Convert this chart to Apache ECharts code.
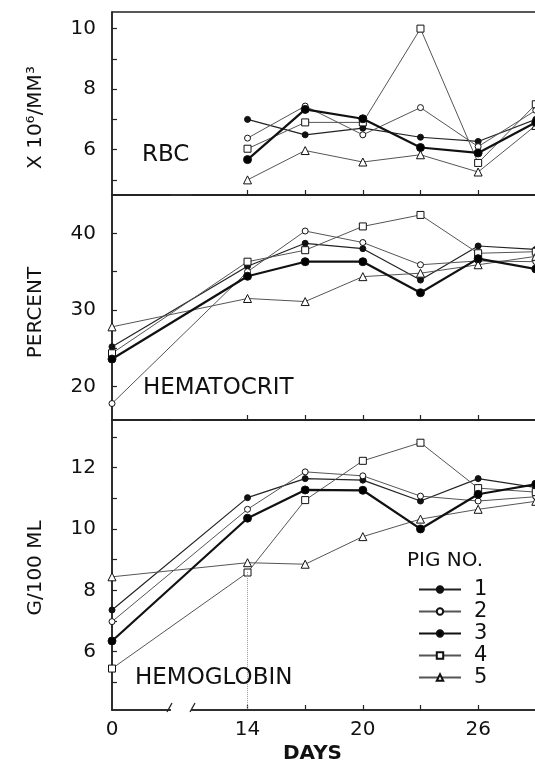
<!DOCTYPE html>
<html>
<head>
<meta charset="utf-8">
<script src="https://cdn.jsdelivr.net/npm/echarts@6/dist/echarts.min.js"></script>
<style>
html,body{margin:0;padding:0;background:#fff;}
#chart{width:535px;height:766px;}
</style>
</head>
<body>
<div id="chart"></div>
<script>
// ---- data ----
const rbcDays = [14, 17, 20, 23, 26, 29];
const days = [0, 14, 17, 20, 23, 26, 29];
const pigs = ['1', '2', '3', '4', '5'];

// RBC (x 10^6 / mm^3)
const rbc1 = [7.0, 6.49, 6.71, 6.41, 6.27, 7.0];
const rbc2 = [6.38, 7.44, 6.49, 7.39, 6.1, 7.3];
const rbc3 = [5.67, 7.33, 7.02, 6.07, 5.89, 6.9];
const rbc4 = [6.03, 6.9, 6.9, 10.0, 5.56, 7.5];
const rbc5 = [5.0, 5.97, 5.59, 5.83, 5.26, 6.8];

// Hematocrit (percent)
const hct1 = [25.2, 35.7, 38.7, 38.0, 33.9, 38.35, 37.9];
const hct2 = [17.8, 35.0, 40.3, 38.8, 35.9, 36.4, 36.3];
const hct3 = [23.6, 34.4, 36.3, 36.3, 32.25, 36.7, 35.35];
const hct4 = [24.35, 36.3, 37.8, 40.9, 42.4, 37.4, 37.6];
const hct5 = [27.8, 31.5, 31.1, 34.35, 34.8, 35.9, 37.0];

// Hemoglobin (g / 100 ml)
const hgb1 = [7.36, 11.02, 11.64, 11.59, 10.91, 11.64, 11.35];
const hgb2 = [6.98, 10.64, 11.86, 11.73, 11.07, 10.91, 11.05];
const hgb3 = [6.35, 10.35, 11.27, 11.26, 10.0, 11.13, 11.46];
const hgb4 = [5.45, 8.58, 10.94, 12.22, 12.81, 11.33, 11.2];
const hgb5 = [8.44, 8.9, 8.85, 9.75, 10.32, 10.64, 10.9];

// ticks / labels
const xTickDays = [14, 17, 20, 23, 26, 29];
const xLabelDays = [0, 14, 20, 26];
const rbcTicks = [5, 6, 7, 8, 9, 10];
const rbcLabels = [6, 8, 10];
const hctTicks = [20, 25, 30, 35, 40];
const hctLabels = [20, 30, 40];
const hgbTicks = [5, 6, 7, 8, 9, 10, 11, 12, 13];
const hgbLabels = [6, 8, 10, 12];

// ---- styling ----
const FONT = 'DejaVu Sans';
const INK = '#111';
const pigStyle = {
  '1': {symbol: 'circle', size: 6, fill: '#111', line: '#222', width: 1.2},
  '2': {symbol: 'circle', size: 6, fill: '#fff', line: '#555', width: 1},
  '3': {symbol: 'circle', size: 8, fill: '#000', line: '#111', width: 2.2},
  '4': {symbol: 'rect', size: 7, fill: '#fff', line: '#555', width: 1},
  '5': {symbol: 'triangle', size: 8, fill: '#fff', line: '#555', width: 1}
};

function zip(xs, ys) { return xs.map((x, i) => [x, ys[i]]); }

function mkSeries(name, idx, xs, ys, extra) {
  const s = pigStyle[name];
  return Object.assign({
    type: 'line', name: name,
    xAxisIndex: idx, yAxisIndex: idx,
    data: zip(xs, ys),
    symbol: s.symbol, symbolSize: s.size, showSymbol: true,
    lineStyle: {color: s.line, width: s.width},
    itemStyle: {color: s.fill, borderColor: '#111', borderWidth: 1},
    emphasis: {disabled: true},
    animation: false, z: name === '3' ? 4 : 3
  }, extra || {});
}

const series = [];
[rbc1, rbc2, rbc3, rbc4, rbc5].forEach((d, i) => series.push(mkSeries(pigs[i], 0, rbcDays, d)));
[hct1, hct2, hct3, hct4, hct5].forEach((d, i) => series.push(mkSeries(pigs[i], 1, days, d)));
[hgb1, hgb2, hgb3, hgb4, hgb5].forEach((d, i) => series.push(mkSeries(pigs[i], 2, days, d)));

const hgbMin = 4.1;
// dotted guide at day 14 in hemoglobin panel
series[series.length - 1].markLine = {
  silent: true, symbol: 'none', animation: false,
  label: {show: false},
  lineStyle: {type: 'dotted', color: '#999', width: 1},
  data: [[{coord: [14, hgb5[1] - 0.3]}, {coord: [14, hgbMin]}]]
};

const grids = [
  {left: 112, width: 443, top: 12, height: 183},
  {left: 112, width: 443, top: 195, height: 225},
  {left: 112, width: 443, top: 420, height: 290}
].map(g => Object.assign(g, {show: true, borderColor: '#222', borderWidth: 1.5, containLabel: false, outerBoundsMode: 'none'}));

function mkX(idx, showLabel) {
  return {
    type: 'value', gridIndex: idx, min: 0, max: 30,
    breaks: [{start: 3, end: 11.1, gap: '5%'}],
    breakArea: {show: false},
    axisLine: {show: true, lineStyle: {color: '#222', width: 1.5}},
    axisTick: {show: true, inside: true, length: 5, customValues: xTickDays, lineStyle: {color: '#222', width: 1.2}},
    axisLabel: {show: showLabel, customValues: xLabelDays, fontFamily: FONT, fontSize: 20, color: INK, margin: 10},
    splitLine: {show: false},
    name: showLabel ? 'DAYS' : '',
    nameLocation: 'middle', nameGap: 34,
    nameTextStyle: {fontFamily: FONT, fontSize: 20, fontWeight: 'bold', color: INK, padding: [0, 42, 0, 0]}
  };
}

function mkY(idx, min, max, ticks, labels, name, pad) {
  return {
    type: 'value', gridIndex: idx, min: min, max: max,
    axisLine: {show: true, lineStyle: {color: '#222', width: 1.5}},
    axisTick: {show: true, inside: true, length: 5, customValues: ticks, lineStyle: {color: '#222', width: 1.2}},
    axisLabel: {customValues: labels, fontFamily: FONT, fontSize: 20, color: INK, margin: 16},
    splitLine: {show: false},
    name: name, nameLocation: 'middle', nameRotate: 90, nameGap: 66,
    nameTextStyle: {fontFamily: FONT, fontSize: 20, color: INK, padding: pad || 0}
  };
}

const option = {
  backgroundColor: '#fff',
  animation: false,
  grid: grids,
  xAxis: [mkX(0, false), mkX(1, false), mkX(2, true)],
  yAxis: [
    mkY(0, 4.5, 10.55, rbcTicks, rbcLabels, 'X 10\u2076/MM\u00b3', [0, 28, 0, 0]),
    mkY(1, 15.65, 45, hctTicks, hctLabels, 'PERCENT', [0, 10, 0, 0]),
    mkY(2, hgbMin, 13.55, hgbTicks, hgbLabels, 'G/100 ML', [0, 6, 0, 0])
  ],
  title: [
    {text: 'RBC', left: 142, top: 144, padding: 0, textStyle: {fontFamily: FONT, fontSize: 23, fontWeight: 'normal', color: INK}},
    {text: 'HEMATOCRIT', left: 143, top: 377, padding: 0, textStyle: {fontFamily: FONT, fontSize: 23, fontWeight: 'normal', color: INK}},
    {text: 'HEMOGLOBIN', left: 135, top: 667, padding: 0, textStyle: {fontFamily: FONT, fontSize: 23, fontWeight: 'normal', color: INK}},
    {text: 'PIG NO.', left: 407, top: 551, padding: 0, textStyle: {fontFamily: FONT, fontSize: 20, fontWeight: 'normal', color: INK}}
  ],
  legend: {
    data: pigs, orient: 'vertical', left: 418, top: 579, padding: 0,
    itemWidth: 42, itemHeight: 8, itemGap: 1,
    textStyle: {fontFamily: FONT, fontSize: 21, lineHeight: 21, color: INK, padding: [0, 0, 0, 8]},
    selectedMode: false
  },
  graphic: [
    {type: 'rect', shape: {x: 171, y: 706, width: 20, height: 6}, style: {fill: '#fff'}, z: 100},
    {type: 'line', shape: {x1: 167, y1: 712, x2: 172, y2: 703}, style: {stroke: '#222', lineWidth: 1.3}, z: 101},
    {type: 'line', shape: {x1: 190, y1: 712, x2: 195, y2: 703}, style: {stroke: '#222', lineWidth: 1.3}, z: 101}
  ],
  series: series
};

const chart = echarts.init(document.getElementById('chart'), null, {renderer: 'canvas'});
chart.setOption(option);
</script>
</body>
</html>
